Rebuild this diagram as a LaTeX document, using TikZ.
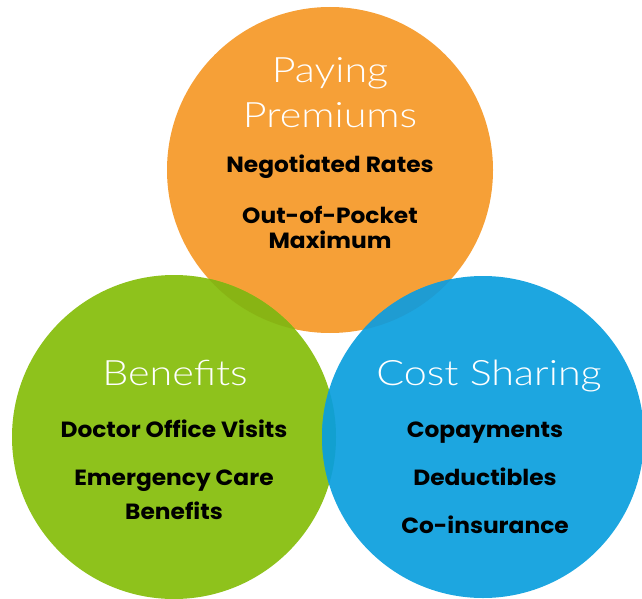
\documentclass[tikz,border=0pt]{standalone}
\usepackage{fontspec}
\setmainfont{Lato}
\newfontfamily\titlefont{Lato Light}[FakeStretch=1.18]
\newfontfamily\itemfont{Poppins}[FakeStretch=1.06]
\begin{document}
\begin{tikzpicture}[x=1pt,y=-1pt,
  ttl/.style={text=white,font=\titlefont\fontsize{35}{40}\selectfont,anchor=base,inner sep=0pt},
  itm/.style={text=black,font=\itemfont\bfseries\fontsize{22}{26}\selectfont,anchor=base,inner sep=0pt}]
\definecolor{corange}{HTML}{F6A037}
\definecolor{cgreen}{HTML}{8EC21C}
\definecolor{cblue}{HTML}{1DA6E0}
\definecolor{cgo}{HTML}{88B414}
\definecolor{cbo}{HTML}{1F9CD2}
\definecolor{cbg}{HTML}{12A0D0}
\useasboundingbox (0,0) rectangle (642,599);
\clip (0,0) rectangle (642,599);
\coordinate (O) at (330,170);
\coordinate (G) at (174,437);
\coordinate (B) at (483,437);
\fill[corange] (O) circle (163);
\fill[cgreen] (G) circle (162);
\begin{scope}
  \clip (O) circle (163);
  \fill[cgo] (G) circle (162);
\end{scope}
\fill[cblue] (B) circle (161);
\begin{scope}
  \clip (B) circle (161);
  \fill[cbo] (O) circle (163);
  \fill[cbg] (G) circle (162);
\end{scope}
\node[ttl] (t1) at (330,83) {Paying};
\node[ttl] (t2) at (330,128) {Premiums};
\node[itm] (a1) at (330,172) {Negotiated Rates};
\node[itm] (a2) at (330,223) {Out-of-Pocket};
\node[itm] (a3) at (330,248) {Maximum};
\node[ttl] (t3) at (175,385) {Benefits};
\node[itm] (b1) at (174,437) {Doctor Office Visits};
\node[itm] (b2) at (174,485) {Emergency Care};
\node[itm] (b3) at (174,519) {Benefits};
\node[ttl] (t4) at (489,385) {Cost Sharing};
\node[itm] (c1) at (485,437) {Copayments};
\node[itm] (c2) at (485,485) {Deductibles};
\node[itm] (c3) at (485,533) {Co-insurance};
\end{tikzpicture}
\end{document}
